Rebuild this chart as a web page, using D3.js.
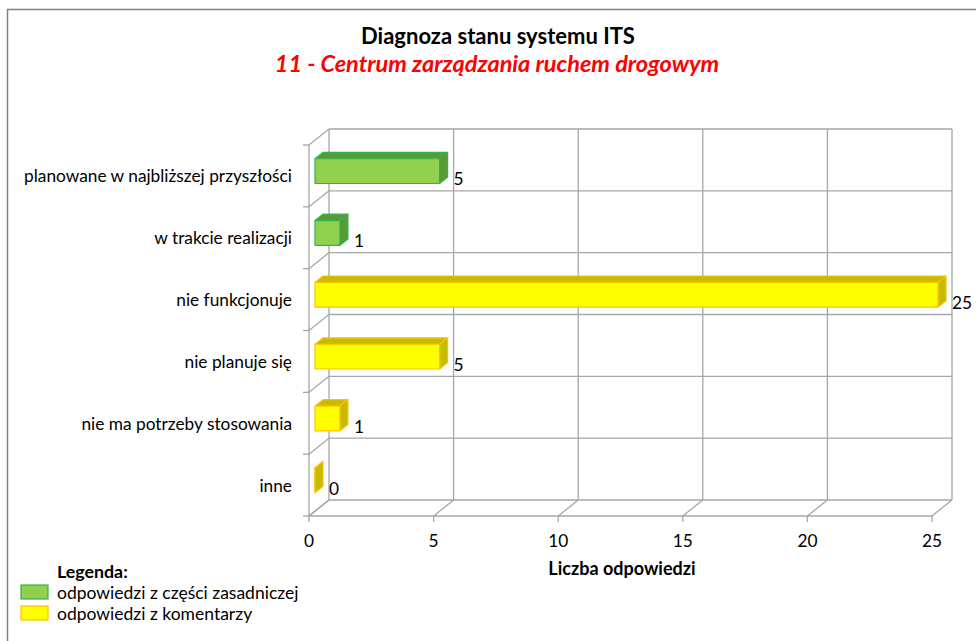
<!DOCTYPE html>
<html>
<head>
<meta charset="utf-8">
<script src="https://cdn.jsdelivr.net/npm/d3@7"></script>
<style>
  body { margin: 0; background: #fff; }
  text { font-family: Lato, sans-serif; fill: #000; }
</style>
</head>
<body>
<script>
var categories = [
  "planowane w najbliższej przyszłości",
  "w trakcie realizacji",
  "nie funkcjonuje",
  "nie planuje się",
  "nie ma potrzeby stosowania",
  "inne"
];
var values = [5, 1, 25, 5, 1, 0];
// which legend group each bar belongs to
var groups = ["zasadnicza", "zasadnicza", "komentarze", "komentarze", "komentarze", "komentarze"];
var ticks = [0, 5, 10, 15, 20, 25];
var legendLabels = ["odpowiedzi z części zasadniczej", "odpowiedzi z komentarzy"];

var colors = {
  zasadnicza: {front: "#92d050", dark: "#5a9a34", stroke: "#34b34c"},
  komentarze: {front: "#ffff00", dark: "#c4bc00", stroke: "#ffc000"}
};

var W = 976, H = 641;
var DX = 20, DY = -16;     // depth of the 3d box
var z0 = 0.3, z1 = 0.7;    // depth span of the bars
var fs = "17.3px";

var svg = d3.select("body").append("svg")
  .attr("width", W)
  .attr("height", H);

// outer frame
svg.append("rect")
  .attr("x", 7.5).attr("y", 9.5)
  .attr("width", W + 20).attr("height", H + 20)
  .attr("fill", "#fff")
  .attr("stroke", "#808080")
  .attr("stroke-width", 1.5);

var x = d3.scaleLinear().domain([0, 25]).range([309, 932]);
var y = d3.scaleBand().domain(categories).range([145, 516]).paddingInner(0).paddingOuter(0);
var bw = y.bandwidth();

function P(xv, yv, z) { return [xv + z * DX, yv + z * DY]; }
function poly(pts) { return "M" + pts.map(function(p) { return p[0] + "," + p[1]; }).join("L") + "Z"; }

var grid = svg.append("g")
  .attr("stroke", "#a6a6a6")
  .attr("stroke-width", 1.3)
  .attr("fill", "none");

var yTop = y.range()[0], yBot = y.range()[1];
var bounds = categories.map(function(c) { return y(c); }).concat([yBot]);

// back wall verticals
ticks.forEach(function(t) {
  var a = P(x(t), yTop, 1), b = P(x(t), yBot, 1);
  grid.append("line").attr("x1", a[0]).attr("y1", a[1]).attr("x2", b[0]).attr("y2", b[1]);
  // floor diagonals + tick marks
  var f = P(x(t), yBot, 0);
  grid.append("line").attr("x1", f[0]).attr("y1", f[1]).attr("x2", b[0]).attr("y2", b[1]);
  grid.append("line").attr("x1", f[0]).attr("y1", f[1]).attr("x2", f[0]).attr("y2", f[1] + 6);
});

// back wall horizontals + left wall diagonals
bounds.forEach(function(by) {
  var a = P(x(0), by, 1), b = P(x(25), by, 1), f = P(x(0), by, 0);
  grid.append("line").attr("x1", a[0]).attr("y1", a[1]).attr("x2", b[0]).attr("y2", b[1]);
  grid.append("line").attr("x1", f[0]).attr("y1", f[1]).attr("x2", a[0]).attr("y2", a[1]);
  grid.append("line").attr("x1", f[0] - 6).attr("y1", f[1]).attr("x2", f[0]).attr("y2", f[1]);
});

// front floor edge and left wall front edge
var fl = P(x(0), yBot, 0), fr = P(x(25), yBot, 0), ft = P(x(0), yTop, 0);
grid.append("line").attr("x1", fl[0]).attr("y1", fl[1]).attr("x2", fr[0]).attr("y2", fr[1]);
grid.append("line").attr("x1", ft[0]).attr("y1", ft[1]).attr("x2", fl[0]).attr("y2", fl[1]);

// bars
var bars = svg.append("g").selectAll("g")
  .data(categories)
  .enter().append("g");

bars.each(function(c, i) {
  var g = d3.select(this);
  var col = colors[groups[i]];
  var xa = x(0), xb = x(values[i]);
  var yt = y(c) + 0.3 * bw, yb = y(c) + 0.7 * bw;
  var front = [P(xa, yt, z0), P(xb, yt, z0), P(xb, yb, z0), P(xa, yb, z0)];
  var top = [P(xa, yt, z0), P(xb, yt, z0), P(xb, yt, z1), P(xa, yt, z1)];
  var side = [P(xb, yt, z0), P(xb, yt, z1), P(xb, yb, z1), P(xb, yb, z0)];
  [[top, col.dark], [side, col.dark], [front, col.front]].forEach(function(f) {
    g.append("path")
      .attr("d", poly(f[0]))
      .attr("fill", f[1])
      .attr("stroke", col.stroke)
      .attr("stroke-width", 1.2)
      .attr("stroke-linejoin", "round");
  });
  g.append("text")
    .attr("x", xb + z1 * DX + 6)
    .attr("y", y(c) + bw / 2 + 3)
    .attr("dominant-baseline", "central")
    .style("font-size", fs)
    .text(values[i]);
});

// category labels
svg.append("g").selectAll("text")
  .data(categories)
  .enter().append("text")
  .attr("x", 292)
  .attr("y", function(d) { return y(d) + bw / 2; })
  .attr("dominant-baseline", "central")
  .attr("text-anchor", "end")
  .style("font-size", fs)
  .text(function(d) { return d; });

// x tick labels
svg.append("g").selectAll("text")
  .data(ticks)
  .enter().append("text")
  .attr("x", function(d) { return x(d); })
  .attr("y", 540)
  .attr("dominant-baseline", "central")
  .attr("text-anchor", "middle")
  .style("font-size", fs)
  .text(function(d) { return d; });

svg.append("text")
  .attr("x", 622).attr("y", 568)
  .attr("dominant-baseline", "central")
  .attr("text-anchor", "middle")
  .style("font-size", "18px")
  .style("font-weight", "bold")
  .text("Liczba odpowiedzi");

// titles
svg.append("text")
  .attr("x", 498).attr("y", 35)
  .attr("dominant-baseline", "central")
  .attr("text-anchor", "middle")
  .style("font-size", "22px")
  .style("font-weight", "bold")
  .text("Diagnoza stanu systemu ITS");

svg.append("text")
  .attr("x", 497).attr("y", 63)
  .attr("dominant-baseline", "central")
  .attr("text-anchor", "middle")
  .style("font-size", "23.5px")
  .style("font-weight", "bold")
  .style("font-style", "italic")
  .style("fill", "#ff0000")
  .text("11 - Centrum zarządzania ruchem drogowym");

// legend
svg.append("text")
  .attr("x", 57).attr("y", 571)
  .attr("dominant-baseline", "central")
  .style("font-size", "17.8px")
  .style("font-weight", "bold")
  .text("Legenda:");

var leg = svg.append("g").selectAll("g")
  .data(legendLabels)
  .enter().append("g")
  .attr("transform", function(d, i) { return "translate(0," + (592 + i * 21) + ")"; });

leg.append("rect")
  .attr("x", 21).attr("y", -7)
  .attr("width", 27).attr("height", 14)
  .attr("fill", function(d, i) { return i === 0 ? colors.zasadnicza.front : colors.komentarze.front; })
  .attr("stroke", function(d, i) { return i === 0 ? colors.zasadnicza.stroke : colors.komentarze.stroke; })
  .attr("stroke-width", 1.2);

leg.append("text")
  .attr("x", 57).attr("y", 0)
  .attr("dominant-baseline", "central")
  .style("font-size", "17.5px")
  .text(function(d) { return d; });
</script>
</body>
</html>
